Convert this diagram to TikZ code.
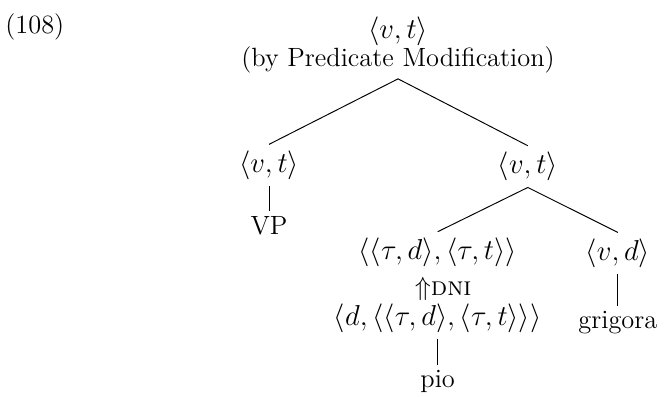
\documentclass[tikz,border=0pt,11pt]{standalone}
\usepackage{amsmath}

\tikzset{
  typ/.style={font=\fontsize{12.2}{14}\selectfont, inner sep=2.5pt},
  word/.style={font=\fontsize{11}{13}\selectfont, inner sep=2pt}
}

\begin{document}
\begin{tikzpicture}[every node/.style={align=center}]

\useasboundingbox (0,0) rectangle (9.74,-5.80);

% Example number
\node[word] (num) at (0.51,-0.40) {(108)};

% Root
\node[word] (root) at (5.83,-0.66) {{\fontsize{12.2}{14}\selectfont$\langle v,t\rangle$}\\[-1pt](by Predicate Modification)};

% Left branch
\node[typ]  (L)  at (3.94,-2.42) {$\langle v,t\rangle$};
\node[word] (VP) at (3.94,-3.31) {VP};

% Right branch
\node[typ]  (R)   at (7.73,-2.44) {$\langle v,t\rangle$};
\node[typ]  (T1)  at (6.41,-3.70) {$\langle\langle \tau,d\rangle,\langle \tau,t\rangle\rangle$};
\node[word,inner sep=0pt] (DNI) at (6.49,-4.23) {$\Uparrow$\textsc{dni}};
\node[typ]  (T2)  at (6.41,-4.66) {$\langle d,\langle\langle \tau,d\rangle,\langle \tau,t\rangle\rangle\rangle$};
\node[word] (pio) at (6.41,-5.58) {pio};

\node[typ]  (VD) at (9.05,-3.71) {$\langle v,d\rangle$};
\node[word] (gr) at (9.05,-4.72) {grigora};

\draw (root.south) -- (L.north);
\draw (root.south) -- (R.north);
\draw (L.south) -- (VP.north);
\draw (R.south) -- (T1.north);
\draw (R.south) -- (VD.north);
\draw (VD.south) -- (gr.north);
\draw (T2.south) -- (pio.north);

\end{tikzpicture}
\end{document}
